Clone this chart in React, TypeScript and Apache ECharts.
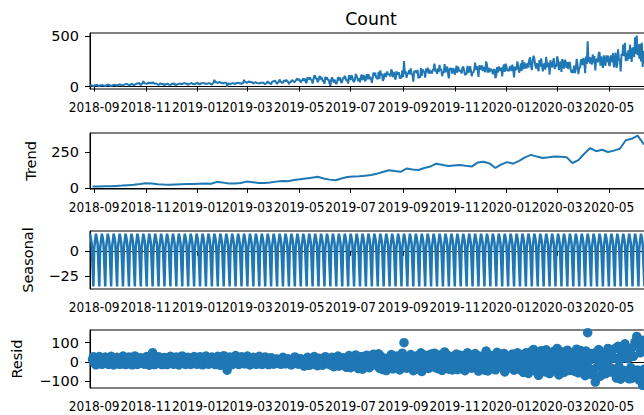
import React, { useEffect, useRef } from "react";
import * as echarts from "echarts";

// Daily series starting on this date (one row of residuals per week, Mon..Sun)
const START_DATE = "2018-08-27";

// Weekly trend level (centered on each week)
const trendWeekly = [
  10, 10, 11, 12, 14, 16, 19, 22, 27, 33,
  30, 26, 23, 22, 24, 26, 27, 28, 29, 30,
  29, 42, 37, 31, 30, 34, 44, 40, 35, 34,
  38, 44, 49, 47, 55, 60, 66, 72, 78, 66,
  58, 54, 66, 77, 80, 82, 86, 90, 100, 112,
  124, 118, 113, 136, 130, 126, 140, 150, 170, 162,
  154, 158, 161, 155, 150, 178, 184, 172, 140, 165,
  181, 170, 190, 215, 232, 220, 210, 215, 221, 219,
  216, 175, 195, 240, 280, 258, 268, 252, 262, 275,
  335, 345, 368, 310, 300,
];

// Additive weekly seasonal component, Mon..Sun
const seasonalWeek = [17, 13, 7, -15, -35, 3, 10];

// Residuals, one row per week, Mon..Sun
const residWeeks = [
  [-10, -14, -3, 12, 27, -4, -6],
  [-15, -8, -2, 9, 28, 1, -11],
  [-12, -11, -7, 14, 25, -3, -4],
  [-9, -13, -1, 8, 29, -5, -9],
  [-16, -7, -6, 15, 24, 2, -10],
  [-11, -12, -8, 10, 30, -1, -3],
  [-14, -6, -2, 16, 26, -6, -12],
  [-8, -15, -9, 7, 31, 0, -5],
  [-13, -9, 4, 13, 22, -4, -7],
  [5, -12, -6, 12, 28, -3, -2],
  [-17, -3, -5, 18, 48, 2, -14],
  [-12, -10, -4, 9, 27, -7, -6],
  [-9, -14, -2, 14, 23, 0, -9],
  [-14, -7, -8, 11, 29, -3, -4],
  [-11, -12, 1, 6, 26, -5, -10],
  [-16, -9, -6, 15, 31, 3, -3],
  [-10, -13, -3, 10, 24, -2, -8],
  [-13, -5, -7, 13, 28, -6, -11],
  [-7, -12, -1, 8, 27, 1, -6],
  [-15, -10, -5, 16, 30, -4, -9],
  [-12, -8, -9, 11, 25, 0, -2],
  [8, -14, -4, 12, 29, -3, -7],
  [-18, -11, -6, 9, 32, -1, -9],
  [-10, -43, -8, 14, 26, -6, -13],
  [-14, -9, -3, 10, 33, 2, -5],
  [-11, -13, -7, 15, 27, -4, -8],
  [6, -10, -5, 8, 30, 0, -3],
  [-16, -7, -2, 13, 24, -3, -11],
  [-9, -12, -8, 12, 29, 1, -6],
  [-13, -10, -4, 9, 26, -5, -9],
  [-2, -14, -9, 4, 22, 6, 3],
  [-12, 2, 5, 14, 15, -6, -9],
  [4, -11, -12, 3, 24, 8, -2],
  [-10, 6, 0, 16, 12, -7, -13],
  [-15, -3, -8, 6, 26, 2, 5],
  [3, -12, 6, 18, 13, -4, -7],
  [-2, -22, 8, -14, 11, 24, 4],
  [-18, 6, -12, 9, -8, -3, 28],
  [9, -15, -2, -20, 14, 19, 12],
  [-13, 12, -17, 3, -5, 27, -6],
  [16, -9, 5, -12, -15, 7, 24],
  [-7, -25, 10, 2, 6, -10, 30],
  [-22, 14, -6, -16, 18, 21, 3],
  [12, -4, -28, 7, -13, 33, -10],
  [-30, 20, 3, -9, 0, -14, 36],
  [5, -13, -35, 17, -6, 11, 28],
  [-38, 9, 14, -19, 22, 35, -24],
  [16, -30, -3, 6, -18, -7, 40],
  [-10, 26, -16, -4, 10, 42, -33],
  [31, -12, 8, -40, -2, 19, -14],
  [-45, 13, -9, 18, 24, -27, 38],
  [9, -36, 21, -7, -15, 30, -5],
  [-6, 16, -42, 12, 3, 45, -28],
  [100, -20, 8, -33, 27, -11, 17],
  [-25, 38, -14, 4, -46, 22, 9],
  [14, -9, 33, -28, 6, -40, 47],
  [-50, 19, -5, 26, -17, 35, -8],
  [21, -34, 12, -6, 41, -23, 3],
  [-12, 45, -30, 16, -9, 8, -36],
  [36, -15, 4, -44, 19, -29, 52],
  [-29, 8, 37, -11, -38, 24, 12],
  [7, -42, 15, 30, -4, -16, 41],
  [-40, 23, -8, 11, 34, -35, 18],
  [25, -6, -46, -19, 9, 47, -27],
  [-16, 39, 6, -33, 22, -10, 5],
  [43, -25, 18, 2, -48, 31, -21],
  [-9, 14, -37, 27, 12, -44, 56],
  [30, -47, 9, -14, 35, -3, -26],
  [-35, 11, 26, -41, 6, 50, -12],
  [18, -20, -7, 38, -29, 15, 44],
  [-52, 33, 13, -9, 21, -31, 7],
  [10, -28, 41, 19, -43, 26, -17],
  [-24, 47, -15, -36, 8, 38, -45],
  [30, -55, 18, -21, 47, -38, 9],
  [-60, 22, 51, -8, -33, 14, 65],
  [41, -17, -49, 28, 5, -70, 33],
  [-28, 58, -6, -44, 36, 19, -52],
  [63, -36, 12, 25, -61, 44, -15],
  [-47, 9, 55, -30, 17, -24, 70],
  [20, -68, -11, 46, -39, 52, -7],
  [-55, 37, 24, -16, 61, -45, 11],
  [48, -22, -44, 8, -5, 30, -50],
  [-33, 66, 15, -57, 27, -12, 59],
  [12, -41, 38, 21, -72, 56, -25],
  [152, -50, 7, -38, 44, -66, 29],
  [-43, 31, -105, 18, 53, -20, 64],
  [57, -74, 26, -9, -48, 40, -31],
  [-62, 45, -17, 70, 8, -53, 36],
  [28, -35, 63, -56, 19, 72, -84],
  [-70, 81, -24, 11, -90, 47, 22],
  [66, -45, 94, -68, 37, -81, 15],
  [-88, 58, -30, -86, 75, 29, -64],
  [104, -56, 132, -42, 88, -95, 47],
  [-77, 112, -122, 60, -38, 96, -110],
  [85, -104, 70, -66, 120, -49, 38],
];

// Date ticks (first of every other month) and value ticks per panel
const xTickLabels = [
  "2018-09", "2018-11", "2019-01", "2019-03", "2019-05", "2019-07",
  "2019-09", "2019-11", "2020-01", "2020-03", "2020-05",
];
const countTicks = [0, 500];
const trendTicks = [0, 250];
const seasonalTicks = [-25, 0];
const residTicks = [-100, 0, 100];

const DAY = 86400000;
const FONT = "DejaVu Sans";
const DATE_FONT = '"DejaVu Sans Condensed", "DejaVu Sans"';
const BLUE = "#1f77b4";
const TICK_FONT = 14.5;

function toUTC(s: string) {
  const [y, m, d] = s.split("-").map(Number);
  return Date.UTC(y, m - 1, d || 1);
}

function padded(values: number[]) {
  let lo = Infinity;
  let hi = -Infinity;
  values.forEach((v) => {
    if (v < lo) lo = v;
    if (v > hi) hi = v;
  });
  const r = hi - lo;
  return [lo - 0.05 * r, hi + 0.05 * r];
}

const fmtNum = (v: number) => (v < 0 ? "\u2212" + Math.abs(v) : String(v));

function buildOption() {
  const t0 = toUTC(START_DATE);
  const nDays = residWeeks.length * 7;
  const at = (i: number) => t0 + i * DAY;

  const count: number[][] = [];
  const seasonal: number[][] = [];
  const resid: number[][] = [];
  for (let i = 0; i < nDays; i++) {
    const w = Math.floor(i / 7);
    const k = i % 7;
    // observed = trend + seasonal + resid
    count.push([at(i), trendWeekly[w] + seasonalWeek[k] + residWeeks[w][k]]);
    seasonal.push([at(i), seasonalWeek[k]]);
    if (i >= 3 && i < nDays - 3) resid.push([at(i), residWeeks[w][k]]);
  }
  const trend = trendWeekly.map((v, w) => [at(7 * w + 3), v]);

  const tickTs = xTickLabels.map((s) => toUTC(s));
  const tickName = new Map(tickTs.map((t, i) => [t, xTickLabels[i]]));

  const left = 90;
  const width = 562;
  const panels = [
    { top: 33, height: 56, data: count, ticks: countTicks, name: "", gap: 0, lw: 2 },
    { top: 133, height: 56, data: trend, ticks: trendTicks, name: "Trend", gap: 52, lw: 2 },
    { top: 231, height: 58, data: seasonal, ticks: seasonalTicks, name: "Seasonal", gap: 55, lw: 2.5 },
    { top: 330, height: 58, data: resid, ticks: residTicks, name: "Resid", gap: 66, lw: 0 },
  ];

  const black = { color: "#000", width: 1 };

  return {
    animation: false,
    backgroundColor: "#fff",
    graphic: [
      {
        type: "text",
        x: left + width / 2,
        y: 19,
        style: {
          text: "Count",
          font: `17.4px "${FONT}"`,
          fill: "#000",
          align: "center",
          verticalAlign: "middle",
        },
      },
    ],
    grid: panels.map((p) => ({
      left,
      width,
      top: p.top,
      height: p.height,
      show: true,
      borderColor: "#000",
      borderWidth: 1,
      backgroundColor: "transparent",
    })),
    xAxis: panels.map((_, i) => ({
      type: "value",
      gridIndex: i,
      min: at(0),
      max: at(nDays - 1),
      axisLine: { show: true, lineStyle: black },
      axisTick: { show: true, customValues: tickTs, length: 5, lineStyle: black },
      axisLabel: {
        customValues: tickTs,
        formatter: (v: number) => tickName.get(v) ?? "",
        fontFamily: DATE_FONT,
        fontSize: 13.5,
        color: "#000",
        margin: 11,
        showMinLabel: true,
        showMaxLabel: true,
      },
      splitLine: { show: false },
    })),
    yAxis: panels.map((p, i) => {
      const [mn, mx] = padded(p.data.map((d) => d[1]));
      return {
        type: "value",
        gridIndex: i,
        min: mn,
        max: mx,
        name: p.name,
        nameLocation: "middle",
        nameRotate: 90,
        nameGap: p.gap,
        nameTextStyle: { fontFamily: FONT, fontSize: TICK_FONT, color: "#000" },
        axisLine: { show: true, lineStyle: black },
        axisTick: { show: true, customValues: p.ticks, length: 5, lineStyle: black },
        axisLabel: {
          customValues: p.ticks,
          formatter: fmtNum,
          fontFamily: FONT,
          fontSize: TICK_FONT,
          color: "#000",
          margin: 11,
        },
        splitLine: { show: false },
      };
    }),
    series: [
      ...[0, 1, 2].map((i) => ({
        type: "line",
        xAxisIndex: i,
        yAxisIndex: i,
        data: panels[i].data,
        showSymbol: false,
        symbol: "none",
        silent: true,
        lineStyle: { color: BLUE, width: panels[i].lw },
        itemStyle: { color: BLUE },
      })),
      {
        type: "scatter",
        xAxisIndex: 3,
        yAxisIndex: 3,
        data: resid,
        symbol: "circle",
        symbolSize: 9.5,
        silent: true,
        itemStyle: { color: BLUE, opacity: 1 },
      },
    ],
  };
}

export default function App() {
  const ref = useRef<HTMLDivElement>(null);
  useEffect(() => {
    if (!ref.current) return;
    const chart = echarts.init(ref.current, null, { renderer: "svg" });
    chart.setOption(buildOption() as any);
    return () => chart.dispose();
  }, []);
  return (
    <div
      style={{
        position: "fixed",
        left: 0,
        top: 0,
        width: 644,
        height: 415,
        overflow: "hidden",
        background: "#fff",
      }}
    >
      <div ref={ref} style={{ width: 660, height: 415 }} />
    </div>
  );
}
